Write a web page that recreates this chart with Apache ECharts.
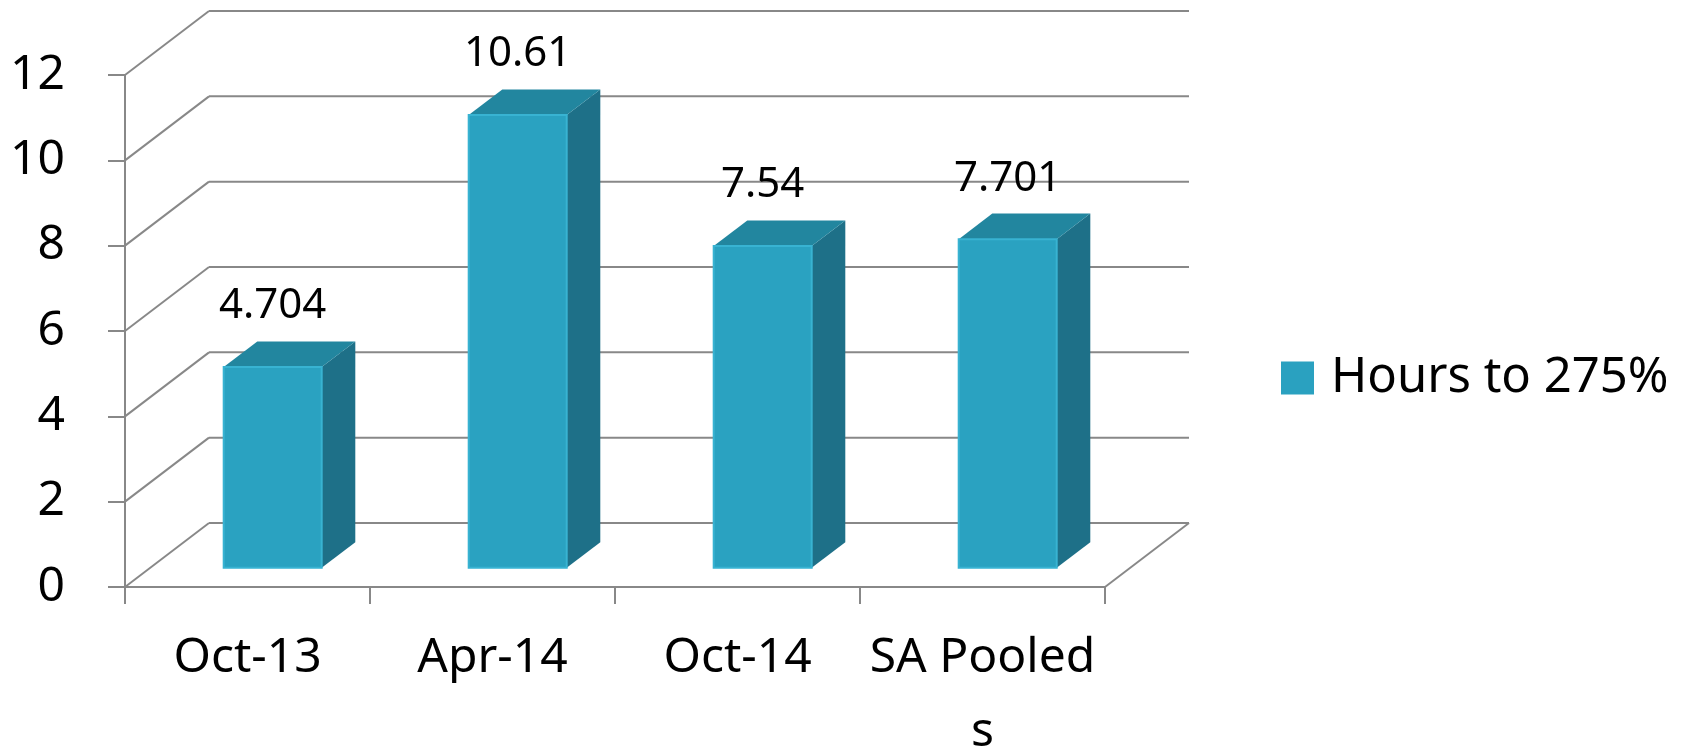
<!DOCTYPE html>
<html>
<head>
<meta charset="utf-8">
<script src="https://cdn.jsdelivr.net/npm/echarts@6/dist/echarts.min.js"></script>
<style>
html,body{margin:0;padding:0;background:#fff;}
#chart{width:1685px;height:751px;}
</style>
</head>
<body>
<div id="chart"></div>
<script>
const categories = ['Oct-13', 'Apr-14', 'Oct-14', 'SA Pooleds'];
const hours = [4.704, 10.61, 7.54, 7.701];
const seriesName = 'Hours to 275%';
const yTickValues = [0, 2, 4, 6, 8, 10, 12];

// 3D look (pixel styling)
const DX = 84, DY = -64;      // depth offset of back wall
const D0 = 0.3, D1 = 0.7;     // bar depth range
const BAR_W = 0.4;            // bar width as fraction of band
const GRID_COLOR = '#888888';
const FONT = 'Noto Sans';

const chart = echarts.init(document.getElementById('chart'));

const option = {
  backgroundColor: '#ffffff',
  animation: false,
  grid: { left: 125, right: 580, top: 75, bottom: 164, containLabel: false, outerBoundsMode: 'none' },
  legend: {
    data: [seriesName],
    left: 1276, top: 347,
    icon: 'rect', itemWidth: 33, itemHeight: 33,
    textStyle: { fontFamily: FONT, fontSize: 49, color: '#000', lineHeight: 52, padding: [0, 0, 0, 12] }
  },
  xAxis: {
    type: 'category',
    data: categories,
    boundaryGap: true,
    axisLine: { show: true, lineStyle: { color: GRID_COLOR, width: 2 } },
    axisTick: { show: true, interval: 0, length: 17, lineStyle: { color: GRID_COLOR, width: 2 } },
    axisLabel: {
      interval: 0,
      fontFamily: FONT, fontSize: 48, color: '#000', margin: 34, lineHeight: 74,
      formatter: v => v === 'SA Pooleds' ? 'SA Pooled\ns' : v
    },
    splitLine: { show: false }
  },
  yAxis: {
    type: 'value', min: 0, max: 12, interval: 2,
    axisLine: { show: true, lineStyle: { color: GRID_COLOR, width: 2 } },
    axisTick: { show: true, length: 17, lineStyle: { color: GRID_COLOR, width: 2 } },
    axisLabel: { fontFamily: FONT, fontSize: 48, color: '#000', margin: 60 },
    splitLine: { show: false }
  },
  series: [
    {
      type: 'custom',
      silent: true,
      z: 1,
      data: yTickValues.map(v => [0, v]),
      renderItem: function (params, api) {
        const v = api.value(1);
        const cs = params.coordSys;
        const p = api.coord([0, v]);
        const xl = cs.x, xr = cs.x + cs.width, y = p[1];
        const children = [
          { type: 'line', shape: { x1: xl, y1: y, x2: xl + DX, y2: y + DY }, style: { stroke: GRID_COLOR, lineWidth: 2 } },
          { type: 'line', shape: { x1: xl + DX, y1: y + DY, x2: xr + DX, y2: y + DY }, style: { stroke: GRID_COLOR, lineWidth: 2 } }
        ];
        if (v === 0) {
          children.push({ type: 'line', shape: { x1: xr, y1: y, x2: xr + DX, y2: y + DY }, style: { stroke: GRID_COLOR, lineWidth: 2 } });
        }
        return { type: 'group', children: children };
      }
    },
    {
      name: seriesName,
      type: 'custom',
      z: 5,
      itemStyle: { color: '#2aa1c0' },
      data: hours.map((v, i) => [i, v]),
      renderItem: function (params, api) {
        const i = api.value(0), v = api.value(1);
        const top = api.coord([i, v]);
        const base = api.coord([i, 0]);
        const band = api.size([1, 0])[0];
        const w = band * BAR_W;
        const fx0 = top[0] - w / 2 + DX * D0;
        const fy0 = top[1] + DY * D0;
        const fyb = base[1] + DY * D0;
        const ddx = DX * (D1 - D0), ddy = DY * (D1 - D0);
        return {
          type: 'group',
          children: [
            { type: 'polygon', shape: { points: [[fx0 + w, fy0], [fx0 + w + ddx, fy0 + ddy], [fx0 + w + ddx, fyb + ddy], [fx0 + w, fyb]] },
              style: { fill: '#1e7088' } },
            { type: 'polygon', shape: { points: [[fx0, fy0], [fx0 + w, fy0], [fx0 + w + ddx, fy0 + ddy], [fx0 + ddx, fy0 + ddy]] },
              style: { fill: '#22869f' } },
            { type: 'rect', shape: { x: fx0, y: fy0, width: w, height: fyb - fy0 },
              style: { fill: '#2aa2c1', stroke: '#38b3d2', lineWidth: 2 } },
            { type: 'text', x: fx0 + w / 2, y: fy0 + ddy - 14,
              style: { text: String(v), fontFamily: FONT, fontSize: 42, fill: '#000', align: 'center', verticalAlign: 'bottom' } }
          ]
        };
      }
    }
  ]
};
chart.setOption(option);
</script>
</body>
</html>
